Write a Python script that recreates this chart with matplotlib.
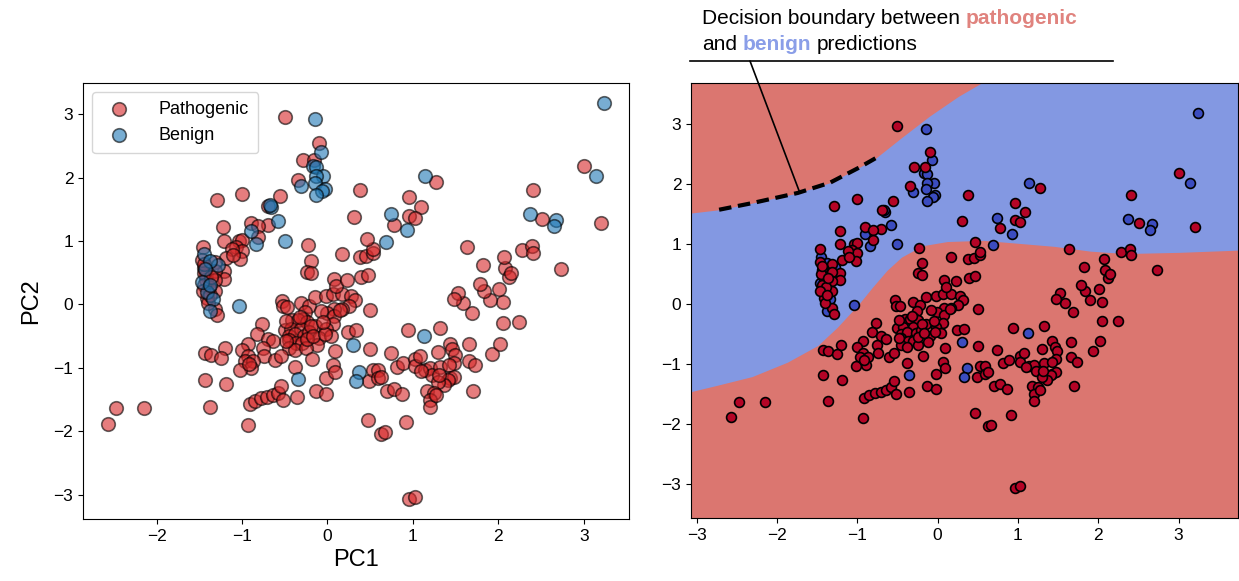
import numpy as np
import matplotlib.pyplot as plt
from matplotlib.patches import ConnectionPatch
from matplotlib.lines import Line2D

plt.rcParams['font.family'] = ['Liberation Sans', 'DejaVu Sans']

# PCA coordinates
path_x = [-0.50, -0.10, -0.29, -0.16, -0.34, 1.27, 0.38, 0.96, 1.09, 0.96, 1.02, 0.31, 0.78,
          -1.29, -1.00, -0.56, -0.69, -0.90, -0.70, -1.22, -0.81, 2.41, 3.00, 2.51, 3.20,
          -0.81, -1.21, -1.04, -1.00, -1.07, -1.00, -1.12, -1.02, -0.23, -1.46, -1.19, -1.10,
          -1.21, -1.21, -1.32, -1.44, -1.42, -1.42, -1.45, -1.32, -1.31, -1.32, -1.41, -1.32,
          -1.29, -1.44, -1.39, -1.47, -1.44, -1.36, -1.40, -1.46, -1.38,
          -0.53, -0.52, -0.47, -0.31, -0.22, -0.14, -0.02, 0.07, 0.17, 0.28, 0.32, 0.25, 0.17,
          0.08, -0.01, -0.08, 0.50, 0.08, 0.10, 0.23, 0.39, 0.47, 0.38, 0.45, 0.53, 0.53, 0.46,
          0.17, -0.19, -0.24, -0.19,
          0.08, 0.07, -0.26, -0.29, -0.41, -0.34, -0.24, -0.50, -0.43, -0.31, -0.14, -0.02,
          -0.45, -0.38, -0.27, -0.21, -0.10, 0.04, -0.45, -0.37, -0.30, -0.12, -0.45, -0.38,
          -0.25, 0.24, 0.33, 0.09, -0.18, -0.38, -0.02, 0.07, 0.09, 0.50, 0.74, 0.49, 0.53,
          0.59, 0.59, 0.63, -0.13, -0.02, 0.70, 0.78, 0.87, 0.82, 0.89, 0.94, 1.32,
          -0.48, -0.32, -0.19, -0.48, -0.24, -0.17, -0.03, -0.05, 0.15,
          1.02, 1.02, 1.08, 1.14, 1.20, 1.23, 1.32, 1.30, 1.43, 1.46, 1.49, 1.48, 1.42, 1.43,
          1.48, 1.41, 1.36, 1.30, 1.17, 1.25, 1.20, 1.20, 1.66, 1.66, 1.73, 1.70, 1.93, 2.02,
          2.05, 2.24, 2.05, 2.01, 1.90, 1.83, 1.79, 1.69, 1.59, 1.53, 1.48, 1.82, 2.08, 2.12,
          2.15, 2.07, 1.63, 2.28, 2.40, 2.41, 2.73, 1.10, 1.31, 1.27,
          -0.77, -0.82, -0.70, -0.64, -0.75, -0.74, -0.61, -0.54, -0.93, -1.00, -0.93, -0.96,
          -0.87, -0.89, -1.02, -0.92, -1.20, -1.43, -1.36, -1.25, -1.43, -1.19, -1.37, -0.91,
          -0.85, -0.78, -0.71, -0.64, -0.58, -0.54, -0.52, -0.36, -0.93, -2.47, -2.15, -2.57,
          0.47, 0.63, 0.67, 0.92, 0.96, 1.03]
path_y = [2.96, 2.54, 2.28, 2.28, 1.97, 1.93, 1.81, 1.69, 1.54, 1.40, 1.37, 1.38, 1.26,
          1.64, 1.75, 1.71, 1.56, 1.29, 1.25, 1.22, 1.23, 1.81, 2.18, 1.35, 1.28,
          1.07, 1.00, 1.00, 1.02, 0.90, 0.85, 0.88, 0.72, 0.93, 0.91, 0.73, 0.78,
          0.52, 0.40, 0.67, 0.57, 0.47, 0.39, 0.50, 0.53, 0.38, 0.21, 0.10, -0.07,
          -0.17, 0.31, 0.28, 0.70, 0.64, 0.44, 0.02, 0.22, 0.15,
          0.06, -0.03, -0.04, 0.03, -0.02, 0.11, 0.14, 0.17, 0.16, 0.14, 0.07, -0.02, -0.07,
          -0.07, -0.13, -0.10, -0.08, 0.40, 0.29, 0.39, 0.44, 0.47, 0.75, 0.77, 0.81, 0.87, 1.04,
          0.79, 0.69, 0.51, 0.49,
          -0.18, -0.31, -0.12, -0.23, -0.25, -0.25, -0.27, -0.40, -0.39, -0.38, -0.34, -0.39,
          -0.50, -0.47, -0.49, -0.44, -0.53, -0.49, -0.56, -0.61, -0.61, -0.64, -0.69, -0.72,
          -0.69, -0.43, -0.41, -0.74, -0.86, -0.99, -1.16, -0.96, -1.06, -0.70, -0.77, -1.21, -1.04,
          -1.04, -1.16, -1.14, -1.36, -1.42, -1.37, -1.34, -1.42, -0.98, -0.93, -0.40, -0.37,
          -0.26, -0.20, -0.34, -0.57, -0.55, -0.49, -0.47, -0.28, -0.09,
          -0.86, -0.97, -0.82, -1.04, -1.01, -1.12, -0.99, -0.75, -0.62, -0.71, -0.79, -0.92, -0.96, -1.16,
          -1.14, -1.19, -1.27, -1.22, -1.36, -1.39, -1.50, -1.62, -0.63, -0.89, -0.96, -1.36, -0.78, -0.62,
          -0.29, -0.28, 0.04, 0.25, 0.07, 0.22, 0.32, -0.13, 0.02, 0.18, 0.09, 0.62, 0.57, 0.44,
          0.50, 0.75, 0.91, 0.86, 0.92, 0.81, 0.56, -1.05, -1.11, -1.43,
          -0.31, -0.46, -0.54, -0.58, -0.68, -0.82, -0.88, -0.81, -0.62, -0.72, -0.82, -0.89,
          -0.89, -1.01, -1.03, -0.94, -0.68, -0.76, -0.79, -0.84, -1.19, -1.26, -1.62, -1.57,
          -1.52, -1.48, -1.46, -1.43, -1.39, -1.28, -1.50, -1.46, -1.90, -1.64, -1.63, -1.89,
          -1.82, -2.04, -2.02, -1.85, -3.07, -3.04]

ben_x = [-0.14, -0.07, -0.17, -0.13, -0.05, -0.13, -0.31, -0.15, -0.03, -0.06, -0.13, 1.14,
         0.74, -0.66, -0.67, -0.58, 3.14, 3.24, 2.37, 2.67, 2.65, -0.90, -0.84, -0.50,
         -1.45, -1.28, -1.41, -1.34, -1.38, -1.38, -1.43, -1.47, -1.38, -1.04, 0.93, 0.69,
         -0.35, 0.30, 0.37, 0.33, 1.13]
ben_y = [2.92, 2.40, 2.18, 2.17, 2.02, 2.02, 1.87, 1.91, 1.82, 1.79, 1.72, 2.02,
         1.43, 1.53, 1.57, 1.31, 2.02, 3.18, 1.42, 1.34, 1.24, 1.16, 0.96, 1.00,
         0.79, 0.62, 0.19, 0.08, -0.11, 0.69, 0.56, 0.35, 0.30, -0.02, 1.17, 0.99,
         -1.18, -0.64, -1.07, -1.21, -0.49]

# decision boundary
low_bx = [-3.10, -2.76, -2.31, -1.87, -1.49, -1.25, -0.98, -0.81, -0.63, -0.45, -0.19,
          0.12, 0.57, 1.01, 1.45, 1.90, 2.34, 3.01, 3.80]
low_by = [-1.47, -1.36, -1.21, -0.97, -0.69, -0.39, 0.0, 0.28, 0.56, 0.78, 0.97,
          1.04, 1.06, 1.01, 0.96, 0.88, 0.84, 0.86, 0.90]
up_bx = [-3.10, -2.72, -2.31, -1.74, -1.34, -0.98, -0.77, -0.45, -0.10, 0.26, 0.57, 0.75]
up_by = [1.51, 1.57, 1.68, 1.85, 2.02, 2.27, 2.43, 2.77, 3.13, 3.46, 3.70, 3.85]

red = '#d62728'
blue = '#1f77b4'
reg_red = '#db7670'
reg_blue = '#8398e2'

fig = plt.figure(figsize=(12.39, 5.81), dpi=100)
ax1 = fig.add_axes([0.067, 0.107, 0.4407, 0.750])
ax2 = fig.add_axes([0.5577, 0.108, 0.4415, 0.749])

# left: plain PCA scatter
ax1.scatter(path_x, path_y, s=95, c=red, alpha=0.6, edgecolors='k', linewidths=1.2,
            label='Pathogenic')
ax1.scatter(ben_x, ben_y, s=95, c=blue, alpha=0.6, edgecolors='k', linewidths=1.2,
            label='Benign')
ax1.set_xlabel('PC1', fontsize=17)
ax1.set_ylabel('PC2', fontsize=17, labelpad=8)
ax1.set_yticks([-3, -2, -1, 0, 1, 2, 3])
ax1.tick_params(labelsize=12.5)
ax1.legend(loc='upper left', fontsize=13, handletextpad=1.2, borderpad=0.5)

# right: decision regions
allx = np.array(path_x + ben_x)
ally = np.array(path_y + ben_y)
x0, x1 = allx.min() - 0.5, allx.max() + 0.5
y0, y1 = ally.min() - 0.5, ally.max() + 0.5
ax2.set_facecolor(reg_blue)
ax2.fill_between(low_bx, y0 - 1, low_by, color=reg_red, lw=0)
ax2.fill_between(up_bx, up_by, y1 + 1, color=reg_red, lw=0)

ubx = np.array(up_bx)
uby = np.array(up_by)
m = (ubx >= -2.72) & (ubx <= -0.77)
ax2.plot(ubx[m], uby[m], color='k', lw=3, ls=(0, (3, 1.6)))

ax2.scatter(ben_x, ben_y, s=50, c='#3b4cc0', edgecolors='k', linewidths=1.2, zorder=3)
ax2.scatter(path_x, path_y, s=50, c='#b40426', edgecolors='k', linewidths=1.2, zorder=3)
ax2.set_xlim(x0, x1)
ax2.set_ylim(y0, y1)
ax2.set_xticks([-3, -2, -1, 0, 1, 2, 3])
ax2.set_yticks([-3, -2, -1, 0, 1, 2, 3])
ax2.tick_params(labelsize=12.5)

# annotation above the right panel
fs = 15
t1 = fig.text(702 / 1239, 1 - 28 / 581, 'Decision boundary between', fontsize=fs,
              va='bottom', ha='left')
ax2.annotate('pathogenic', xy=(1, 0), xycoords=t1, xytext=(4.2, 0),
             textcoords='offset points', fontsize=fs, fontweight='bold',
             color='#e0837e', va='bottom', ha='left', annotation_clip=False)
t2 = fig.text(702 / 1239, 1 - 54 / 581, 'and', fontsize=fs, va='bottom', ha='left')
t3 = ax2.annotate('benign', xy=(1, 0), xycoords=t2, xytext=(4.2, 0),
                  textcoords='offset points', fontsize=fs, fontweight='bold',
                  color='#8a9ee8', va='bottom', ha='left', annotation_clip=False)
ax2.annotate('predictions', xy=(1, 0), xycoords=t3, xytext=(4.2, 0),
             textcoords='offset points', fontsize=fs, va='bottom', ha='left',
             annotation_clip=False)

ly = 1 - 61 / 581
fig.add_artist(Line2D([690 / 1239, 1113 / 1239], [ly, ly], color='k', lw=1.2))
con = ConnectionPatch(xyA=(750 / 1239, ly), coordsA=fig.transFigure,
                      xyB=(-1.72, 1.87), coordsB=ax2.transData, color='k', lw=1.2)
fig.add_artist(con)

fig.savefig('out.png', dpi=100)
